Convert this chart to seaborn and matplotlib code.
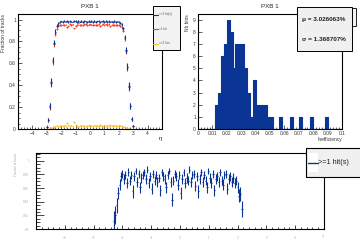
import numpy as np
import matplotlib
matplotlib.use("Agg")
import matplotlib.pyplot as plt
import seaborn as sns
from matplotlib.patches import Rectangle
from matplotlib.lines import Line2D
from matplotlib.ticker import MultipleLocator, FormatStrFormatter

# ---------------- data ----------------
# top-left: fraction of tracks vs eta, 61 bins of 0.1 from -3.05 to 3.05
ETA_TOP_RANGE = (-3.0, 3.0, 61)

frac_ge1 = [0.02, 0.08, 0.21, 0.43, 0.63, 0.79, 0.89, 0.945, 0.965, 0.975,
            0.982, 0.978, 0.986, 0.980, 0.984, 0.977, 0.988, 0.981, 0.979, 0.985,
            0.983, 0.976, 0.987, 0.980, 0.984, 0.979, 0.986, 0.982, 0.978, 0.985,
            0.981,
            0.984, 0.977, 0.986, 0.980, 0.983, 0.988, 0.979, 0.982, 0.985, 0.978,
            0.984, 0.981, 0.986, 0.979, 0.983, 0.980, 0.985, 0.977, 0.982, 0.976,
            0.970, 0.955, 0.920, 0.840, 0.720, 0.570, 0.390, 0.210, 0.090, 0.030]

frac_eq1 = [0.02, 0.08, 0.205, 0.418, 0.61, 0.772, 0.865, 0.915, 0.943, 0.947,
            0.952, 0.953, 0.951, 0.952, 0.929, 0.945, 0.962, 0.951, 0.955, 0.920,
            0.943, 0.948, 0.965, 0.950, 0.949, 0.952, 0.955, 0.957, 0.949, 0.952,
            0.955,
            0.954, 0.953, 0.952, 0.952, 0.952, 0.961, 0.943, 0.953, 0.960, 0.946,
            0.956, 0.948, 0.960, 0.939, 0.953, 0.953, 0.950, 0.948, 0.951, 0.952,
            0.940, 0.929, 0.898, 0.822, 0.708, 0.562, 0.386, 0.210, 0.090, 0.030]

frac_ge2 = [0.0, 0.0, 0.005, 0.012, 0.020, 0.018, 0.025, 0.030, 0.022, 0.028,
            0.030, 0.025, 0.035, 0.028, 0.055, 0.032, 0.026, 0.030, 0.024, 0.065,
            0.040, 0.028, 0.022, 0.030, 0.035, 0.027, 0.031, 0.025, 0.029, 0.033,
            0.026,
            0.030, 0.024, 0.034, 0.028, 0.031, 0.027, 0.036, 0.029, 0.025, 0.032,
            0.028, 0.033, 0.026, 0.040, 0.030, 0.027, 0.035, 0.029, 0.031, 0.024,
            0.030, 0.026, 0.022, 0.018, 0.012, 0.008, 0.004, 0.0, 0.0, 0.0]

err_top = [0.010, 0.020, 0.030, 0.035, 0.030, 0.025, 0.020, 0.015, 0.012, 0.010,
           0.008, 0.007, 0.009, 0.006, 0.008, 0.007, 0.009, 0.008, 0.006, 0.007,
           0.008, 0.009, 0.007, 0.006, 0.008, 0.007, 0.009, 0.008, 0.007, 0.006,
           0.008,
           0.007, 0.009, 0.006, 0.008, 0.007, 0.008, 0.009, 0.006, 0.007, 0.008,
           0.007, 0.009, 0.008, 0.006, 0.007, 0.008, 0.009, 0.007, 0.006, 0.008,
           0.010, 0.012, 0.015, 0.020, 0.025, 0.030, 0.035, 0.030, 0.020, 0.010]

# bottom: efficiency (>=1 hit) vs eta, 89 bins
ETA_BOT_RANGE = (-2.3, 2.15, 89)

eff_bottom = [0.911, 0.921, 0.935, 0.953, 0.965, 0.977, 0.981, 0.973, 0.979, 0.967,
              0.983, 0.971, 0.979, 0.955, 0.977, 0.985, 0.969, 0.981, 0.961, 0.975,
              0.979, 0.983, 0.973, 0.987, 0.967, 0.977, 0.959, 0.981, 0.971, 0.979,
              0.969, 0.975, 0.957, 0.983, 0.977, 0.973, 0.961, 0.979, 0.985, 0.969,
              0.943, 0.971, 0.981, 0.977, 0.965, 0.979, 0.953, 0.973, 0.983, 0.967,
              0.975, 0.971, 0.987, 0.969, 0.979, 0.981, 0.963, 0.977, 0.955, 0.973,
              0.983, 0.969, 0.979, 0.971, 0.961, 0.985, 0.975, 0.967, 0.981, 0.957,
              0.973, 0.977, 0.969, 0.983, 0.971, 0.965, 0.979, 0.981, 0.959, 0.973,
              0.977, 0.969, 0.975, 0.967, 0.971, 0.961, 0.949, 0.951, 0.929]

err_bottom = [0.016, 0.013, 0.011, 0.009, 0.008, 0.007, 0.006, 0.007, 0.006, 0.007,
              0.006, 0.007, 0.006, 0.009, 0.006, 0.005, 0.007, 0.006, 0.008, 0.007,
              0.006, 0.005, 0.007, 0.005, 0.007, 0.006, 0.008, 0.006, 0.007, 0.006,
              0.007, 0.006, 0.008, 0.005, 0.006, 0.007, 0.008, 0.006, 0.005, 0.007,
              0.010, 0.007, 0.006, 0.006, 0.008, 0.006, 0.009, 0.007, 0.005, 0.007,
              0.007, 0.007, 0.005, 0.007, 0.006, 0.006, 0.008, 0.006, 0.009, 0.007,
              0.005, 0.007, 0.006, 0.007, 0.008, 0.005, 0.007, 0.007, 0.006, 0.008,
              0.007, 0.006, 0.007, 0.005, 0.007, 0.008, 0.006, 0.006, 0.008, 0.007,
              0.006, 0.007, 0.007, 0.007, 0.007, 0.008, 0.009, 0.010, 0.012]

stats_lines = ["\u03bc = 3.026063%", "\u03c3 = 1.368707%"]
legend_top = [">=1 hit(s)", "=1 hit", ">=2 hits"]
legend_bottom = ">=1 hit(s)"

BLUE = "#0a3594"
RED = "#ff3a10"
YELLOW = "#f7bd2c"

# ---------------- plot ----------------
sns.set_style("ticks")
plt.rcParams['font.family'] = ['Liberation Sans', 'DejaVu Sans']

fig = plt.figure(figsize=(3.6, 2.4), dpi=100)
ax1 = fig.add_axes([0.05, 0.4625, 0.40, 0.479])
ax2 = fig.add_axes([0.55, 0.4625, 0.40, 0.479])
ax3 = fig.add_axes([0.10, 0.0458, 0.80, 0.3167])

eta_top = np.linspace(*ETA_TOP_RANGE)
hw_top = (eta_top[1] - eta_top[0]) / 2
ge2 = np.array(frac_ge2)
keep = ge2 > 0
ax1.errorbar(eta_top[keep], ge2[keep], xerr=hw_top, yerr=0.006, fmt='none',
             ecolor=YELLOW, elinewidth=0.8)
ax1.errorbar(eta_top, frac_eq1, xerr=hw_top, yerr=err_top, fmt='none',
             ecolor=RED, elinewidth=0.8)
ax1.errorbar(eta_top, frac_ge1, xerr=hw_top, yerr=err_top, fmt='none',
             ecolor=BLUE, elinewidth=0.8)
ax1.set_xlim(-5, 5)
ax1.set_ylim(0, 1.05)
ax1.set_xticks(range(-4, 5))
ax1.xaxis.set_minor_locator(MultipleLocator(0.2))
ax1.yaxis.set_major_locator(MultipleLocator(0.2))
ax1.yaxis.set_minor_locator(MultipleLocator(0.05))
ax1.yaxis.set_major_formatter(FormatStrFormatter('%g'))
ax1.set_title("PXB 1", fontsize=4.5, pad=4)
ax1.set_ylabel("Fraction of tracks", fontsize=3.5, loc='top', labelpad=2, color='#333333')
ax1.set_xlabel("\u03b7", fontsize=4.5, loc='right', labelpad=0)

# histogram of inefficiency
ineff = 1 - np.array(eff_bottom)
sns.histplot(x=ineff, binwidth=0.002, binrange=(0, 0.1), element='step', fill=True,
             color=BLUE, alpha=1, linewidth=0.8, ax=ax2)
ax2.set_xlim(0, 0.1)
ax2.set_ylim(0, 9.45)
ax2.xaxis.set_major_locator(MultipleLocator(0.01))
ax2.xaxis.set_minor_locator(MultipleLocator(0.002))
ax2.xaxis.set_major_formatter(FormatStrFormatter('%g'))
ax2.yaxis.set_major_locator(MultipleLocator(1))
ax2.set_title("PXB 1", fontsize=4.5, pad=4)
ax2.set_ylabel("Nb bins", fontsize=3.5, loc='top', labelpad=2, color='#333333')
ax2.set_xlabel("Inefficiency", fontsize=3.5, loc='right', labelpad=1, color='#333333')

# bottom efficiency
eta_bot = np.linspace(*ETA_BOT_RANGE)
hw_bot = (eta_bot[1] - eta_bot[0]) / 2
ax3.errorbar(eta_bot, eff_bottom, xerr=hw_bot, yerr=err_bottom, fmt='none',
             ecolor=BLUE, elinewidth=0.8)
ax3.set_xlim(-5, 5)
ax3.set_ylim(0.9, 1.0113)
ax3.set_xticks(range(-4, 5))
ax3.xaxis.set_minor_locator(MultipleLocator(0.2))
ax3.yaxis.set_major_locator(MultipleLocator(0.02))
ax3.yaxis.set_minor_locator(MultipleLocator(0.005))
ax3.yaxis.set_major_formatter(FormatStrFormatter('%g'))
ax3.set_ylabel("Fraction of tracks", fontsize=2.2, loc='top', labelpad=4, color='#aaaaaa')
ax3.set_xlabel("\u03b7", fontsize=2.5, loc='right', color='#aaaaaa')
ax3.xaxis.set_label_coords(1.0, -0.06)

for ax in (ax1, ax2):
    ax.tick_params(which='both', direction='in', width=0.5, labelsize=3.5,
                   labelcolor='#333333', pad=1.5)
    ax.tick_params(which='major', length=3)
    ax.tick_params(which='minor', length=1.5)
ax3.tick_params(which='both', direction='in', width=0.6, labelsize=2.2,
                labelcolor='#aaaaaa', pad=5)
ax3.tick_params(which='major', length=6)
ax3.tick_params(which='minor', length=3)
ax3.tick_params(axis='x', which='major', length=3)
ax3.tick_params(axis='x', which='minor', length=1.5)

for ax in (ax1, ax2, ax3):
    for s in ax.spines.values():
        s.set_linewidth(0.8)
        s.set_color('black')

# top-left legend box
fig.patches.append(Rectangle((0.425, 0.7917), 0.075, 0.183, transform=fig.transFigure,
                             facecolor='#f2f2f2', edgecolor='black', linewidth=0.7, zorder=5))
for txt, col, ypix in zip(legend_top, [BLUE, RED, YELLOW], [14.5, 29, 43.5]):
    yf = 1 - ypix / 240
    fig.lines.append(Line2D([0.425, 0.439], [yf, yf], transform=fig.transFigure,
                            color=col, linewidth=0.8, zorder=6))
    fig.text(0.443, yf, txt, fontsize=2.2, va='center', ha='left', color='#555555', zorder=6)

# stats boxes (top right)
fig.patches.append(Rectangle((0.905, 0.8917), 0.085, 0.075, transform=fig.transFigure,
                             facecolor='#f2f2f2', edgecolor='black', linewidth=0.6, zorder=5))
fig.patches.append(Rectangle((0.825, 0.7875), 0.153, 0.183, transform=fig.transFigure,
                             facecolor='#f0f0f0', edgecolor='black', linewidth=0.7, zorder=6))
fig.text(0.9, 1 - 19.5 / 240, stats_lines[0], fontsize=4.6, ha='center', va='center',
         fontweight='bold', color='#222222', zorder=7)
fig.text(0.9, 1 - 39.5 / 240, stats_lines[1], fontsize=4.6, ha='center', va='center',
         fontweight='bold', color='#222222', zorder=7)

# bottom legend
fig.patches.append(Rectangle((0.85, 0.2625), 0.16, 0.121, transform=fig.transFigure,
                             facecolor='#f0f0f0', edgecolor='black', linewidth=0.8, zorder=5))
fig.patches.append(Rectangle((0.856, 0.283), 0.026, 0.080, transform=fig.transFigure,
                             facecolor='white', edgecolor='none', zorder=6))
yl = 1 - 163 / 240
fig.lines.append(Line2D([0.856, 0.882], [yl, yl], transform=fig.transFigure,
                        color=BLUE, linewidth=1.0, zorder=7))
fig.text(0.884, yl, legend_bottom, fontsize=5.2, va='center', ha='left', color='#222222',
         zorder=7)

plt.savefig("out.png", dpi=100)
plt.close()
